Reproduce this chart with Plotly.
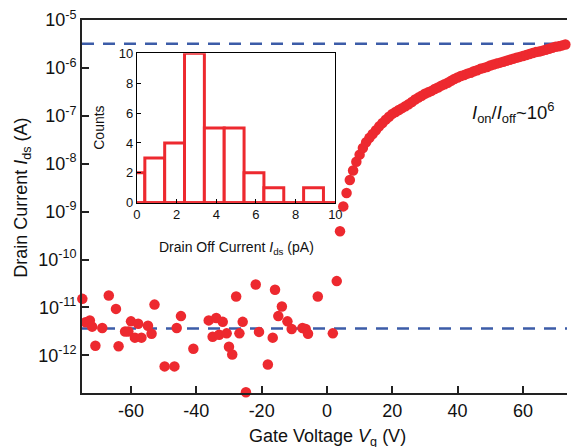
import plotly.graph_objects as go

# Off-state sweep: gate voltage (V) and log10 of drain current (A)
vg_off = [-74.9, -73.9, -72.6, -71.9, -70.9, -68.8, -66.8, -64.6, -63.8, -61.8,
          -60.8, -60.0, -58.8, -57.8, -56.8, -54.8, -53.7, -52.8, -49.7, -46.7,
          -46.0, -44.7, -40.9, -36.2, -35.0, -33.9, -33.0, -31.9, -30.7, -30.0,
          -29.0, -27.8, -26.8, -25.8, -24.8, -21.8, -20.8, -18.1, -16.6, -15.9,
          -14.9, -13.8, -12.1, -10.8, -7.5, -6.5, -5.8, -2.8, 1.8, 3.0]
log_ids_off = [-10.82, -11.31, -11.27, -11.40, -11.80, -11.43, -10.75, -11.03, -11.81, -11.50,
               -11.50, -11.29, -11.63, -11.34, -11.63, -11.38, -11.55, -10.94, -12.23, -12.23,
               -11.43, -11.18, -11.86, -11.27, -11.61, -11.22, -11.57, -11.30, -11.54, -11.82,
               -11.98, -10.77, -11.54, -11.30, -12.77, -10.52, -11.51, -12.19, -11.63, -10.63,
               -11.18, -10.98, -11.29, -11.45, -11.43, -11.45, -11.55, -10.77, -11.54, -10.45]

# On-state sweep, 1 V steps from 4 V to 73 V
vg_on = list(range(4, 74))
log_ids_on = [-9.41, -8.89, -8.61, -8.34, -8.14, -7.96, -7.81, -7.67, -7.55, -7.46,
              -7.38, -7.30, -7.22, -7.15, -7.08, -7.02, -6.96, -6.92, -6.88, -6.84,
              -6.80, -6.76, -6.71, -6.66, -6.62, -6.58, -6.54, -6.51, -6.48, -6.44,
              -6.41, -6.37, -6.34, -6.31, -6.27, -6.23, -6.20, -6.17, -6.15, -6.12,
              -6.10, -6.07, -6.05, -6.02, -6.00, -5.98, -5.95, -5.93, -5.91, -5.89,
              -5.87, -5.85, -5.83, -5.81, -5.79, -5.77, -5.75, -5.73, -5.71, -5.69,
              -5.67, -5.66, -5.64, -5.62, -5.60, -5.58, -5.56, -5.55, -5.53, -5.51]

# Reference levels for on and off current (A)
i_on_level = 3.2e-6
i_off_level = 3.65e-12

# Histogram of off currents (pA): bin centres and counts
hist_centers = [-0.1, 0.9, 1.9, 2.9, 3.9, 4.9, 5.9, 6.9, 7.9, 8.9, 9.9]
hist_counts = [2, 3, 4, 10, 5, 5, 2, 1, 0, 1, 0]

y_tick_exp = [-12, -11, -10, -9, -8, -7, -6, -5]
x_ticks = [-60, -40, -20, 0, 20, 40, 60]
inset_ticks = [0, 2, 4, 6, 8, 10]

RED = "rgb(237,41,47)"
BLUE = "rgb(60,92,168)"
AXIS = "#222222"
FONT = "Liberation Sans, Arial, sans-serif"
X_RANGE = [-75, 73.5]

fig = go.Figure()

for level in (i_on_level, i_off_level):
    fig.add_trace(go.Scatter(
        x=X_RANGE, y=[level, level], mode="lines",
        line=dict(color=BLUE, width=2.6, dash="12px,9px"),
        hoverinfo="skip", showlegend=False))

fig.add_trace(go.Scatter(
    x=vg_off + vg_on,
    y=[10 ** v for v in log_ids_off + log_ids_on],
    mode="markers",
    marker=dict(color=RED, size=10.5, line=dict(width=0)),
    cliponaxis=False, showlegend=False))

# Inset histogram
fig.add_trace(go.Bar(
    x=hist_centers, y=hist_counts, width=1.0,
    marker=dict(color="white", line=dict(color=RED, width=3)),
    xaxis="x2", yaxis="y2", showlegend=False))
fig.add_trace(go.Scatter(
    x=[0, 10], y=[0, 0], mode="lines",
    line=dict(color=RED, width=3),
    xaxis="x2", yaxis="y2", cliponaxis=False, showlegend=False))


def label(text, x, y, size, angle=0):
    return dict(text=text, xref="paper", yref="paper", x=x, y=y,
                xanchor="center", yanchor="middle", textangle=angle,
                showarrow=False, font=dict(size=size))


fig.update_layout(
    width=574, height=447,
    margin=dict(l=82, r=0, t=20, b=54),
    paper_bgcolor="white", plot_bgcolor="white",
    font=dict(family=FONT, size=18, color="#111111"),
    xaxis=dict(
        range=X_RANGE, tickvals=x_ticks, ticktext=[str(v) for v in x_ticks],
        showline=True, linecolor=AXIS, linewidth=2, mirror=True,
        ticks="inside", ticklen=7, tickwidth=1.5, tickcolor=AXIS,
        showgrid=False, zeroline=False,
        tickfont=dict(size=18)),
    yaxis=dict(
        type="log", range=[-12.785, -5],
        tickvals=[10 ** e for e in y_tick_exp],
        ticktext=["10<sup>%d</sup>" % e for e in y_tick_exp],
        showline=True, linecolor=AXIS, linewidth=2, mirror=False,
        ticks="inside", ticklen=7, tickwidth=1.5, tickcolor=AXIS,
        showgrid=False, zeroline=False,
        tickfont=dict(size=18)),
    xaxis2=dict(
        domain=[0.1132, 0.5224], anchor="y2", range=[0, 10],
        tickvals=inset_ticks, ticktext=[str(v) for v in inset_ticks],
        showline=True, linecolor="black", linewidth=1, mirror=True,
        ticks="inside", ticklen=4, tickwidth=1, tickcolor="black",
        showgrid=False, zeroline=False, tickfont=dict(size=13)),
    yaxis2=dict(
        domain=[0.5102, 0.9107], anchor="x2", range=[0, 10],
        tickvals=inset_ticks, ticktext=[str(v) for v in inset_ticks],
        showline=True, linecolor="black", linewidth=1, mirror=True,
        ticks="inside", ticklen=4, tickwidth=1, tickcolor="black",
        showgrid=False, zeroline=False, tickfont=dict(size=13)),
    annotations=[
        label("Gate Voltage <i>V</i><sub>g</sub> (V)", 0.506, -0.118, 18),
        label("Drain Current <i>I</i><sub>ds</sub> (A)", -0.122, 0.523, 18, -90),
        label("<i>I</i><sub>on</sub>/<i>I</i><sub>off</sub>~10<sup>6</sup>", 0.889, 0.753, 18.5),
        label("Counts", 0.0346, 0.7105, 14, -90),
        label("Drain Off Current <i>I</i><sub>ds</sub> (pA)", 0.3177, 0.3887, 14),
    ],
)

fig.write_html("out.html")
